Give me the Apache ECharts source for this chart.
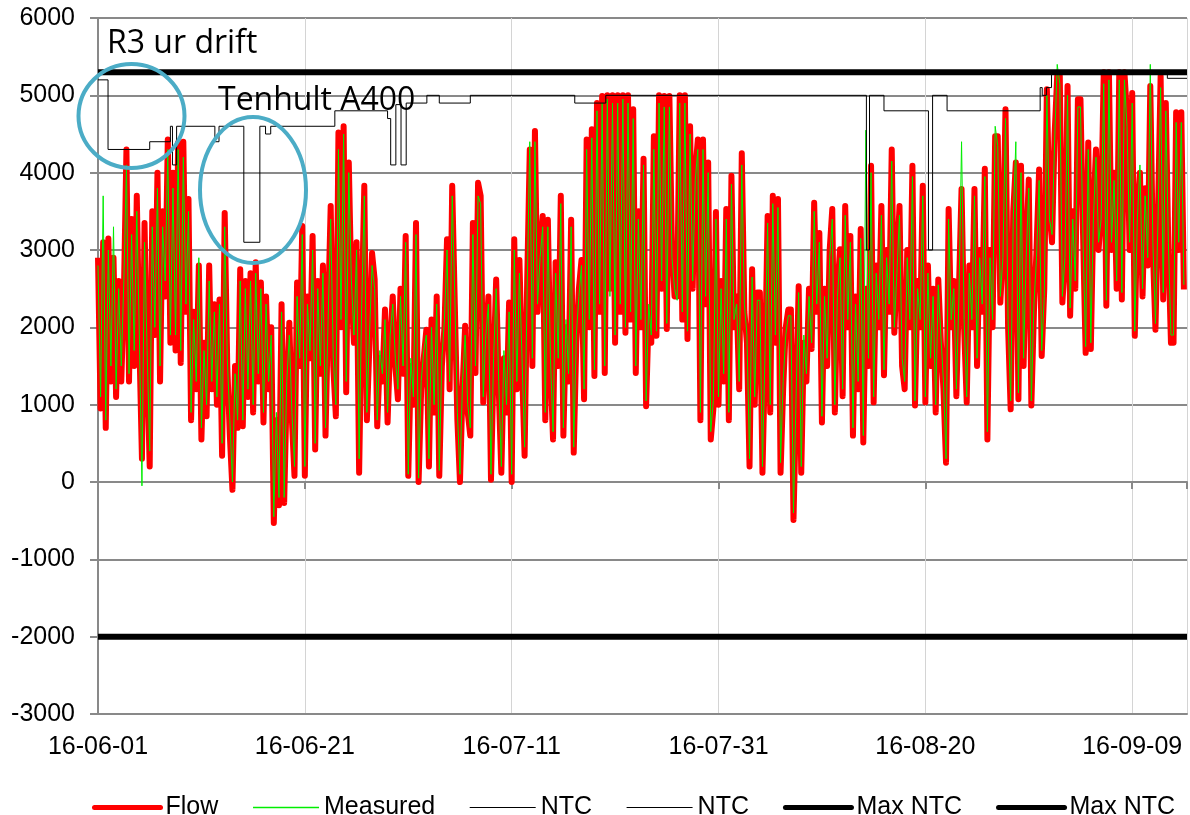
<!DOCTYPE html>
<html>
<head>
<meta charset="utf-8">
<script src="https://cdn.jsdelivr.net/npm/echarts@6/dist/echarts.min.js"></script>
<style>
html,body{margin:0;padding:0;background:#fff;}
#chart{width:1190px;height:815px;}
</style>
</head>
<body>
<div id="chart"></div>
<script>
// x tick labels (every 20 days from 2016-06-01)
const xTickLabels = ['16-06-01','16-06-21','16-07-11','16-07-31','16-08-20','16-09-09'];
// samples every 6 hours (0.25 day) starting 2016-06-01 00:00
const stepDays = 0.25;

const flowValues = [
 2900,950,3100,700, 3150,1300,2900,1100, 2600,1300,2400,4300, 1300,3400,1500,3700,
 1800,300,3350,1500, 200,3500,1900,4000, 1300,3500,2400,4430, 1800,4000,1700,4390,
 1540,4400,2200,3660, 800,2200,1200,2800, 550,1800,850,2800, 1200,2300,1000,2360,
 340,3480,1500,600, -100,1500,700,2750, 720,2600,1100,2700, 900,2840,1300,2580,
 770,2400,1200,2000, -530,800,-300,2300, -270,1200,2060,800, 80,2580,1500,3310,
 80,2400,1600,3180, 420,2600,1400,2800, 600,2200,3570,1500, 850,4520,2000,4600,
 1160,4130,2500,1800, 3100,120,2200,3830, 800,1800,2960,2620, 720,1600,1300,2230,
 770,1800,2400,1500, 1070,2500,1400,3180, 80,1500,1000,3350, 0,1200,1600,1970,
 200,2100,900,2400, 80,1500,2000,3140, 1200,3830,2300,800, 0,1200,2020,900,
 600,3350,1410,3870, 3700,1030,1800,2400, 30,1500,2620,1200, 120,1600,900,2320,
 0,3140,1200,2870, 1500,340,2600,4300, 1500,4540,2200,3000, 3440,800,3390,1500,
 550,2840,1500,3700, 600,2000,1300,3390, 380,1800,2500,2870, 1070,4430,2000,4560,
 1370,4900,2200,4990, 1410,5000,2500,5000, 1800,5000,2200,5000, 1930,5000,2100,4820,
 1410,3500,2000,4180, 980,2200,1800,4470, 1890,5000,2500,4990, 1980,4990,3000,2400,
 2400,5000,2100,5000, 1850,4600,2500,4000, 4430,800,4430,2300, 4130,550,940,3490,
 1000,2600,1300,3530, 800,3960,2000,2400, 1200,4250,2200,1800, 200,2750,1000,2450,
 2450,120,1600,3440, 900,3700,1800,3660, 120,1200,2000,2230, 2230,-490,1000,2530,
 120,1800,1300,2500, 1720,3610,2200,3220, 770,2500,1500,3000, 3530,900,2500,3010,
 1110,3570,2000,3180, 600,2400,1200,3270, 510,2500,1500,4090, 1030,2800,2000,3570,
 1380,3000,2200,4300, 1930,2800,3570,1500, 1200,3000,2000,4090, 990,2600,2000,3830,
 1030,2800,1500,2500, 900,2620,1800,1200, 250,3530,2000,2600, 1110,2500,3790,2000,
 1030,2800,2000,3790, 1500,3000,2200,4050, 550,3000,2000,4470, 4470,2320,3000,4820,
 2000,940,3500,4130, 1070,4090,1500,3000, 3910,990,2200,3000, 4040,1630,2500,5080,
 3500,3100,4500,5250, 5250,2320,2840,5120, 2150,3500,2500,4950, 4950,3200,1670,4390,
 1720,3500,4300,3000, 3500,5300,2280,5300, 3000,4000,2500,5300, 2360,5300,4730,3000,
 5030,1890,3500,4000, 2400,3800,2800,5120, 3000,1970,3500,5250, 2360,4900,3000,1800,
 1800,4780,3000,4780, 2490
];

const measuredValues = [
 2800,1100,3700,800, 3000,1500,3300,1200, 2500,1500,2600,4100, 1400,3200,1700,3500,
 1900,-50,3100,1700, 400,3300,2000,3800, 1500,3300,2600,4300, 1900,3800,1900,4300,
 1700,4200,2300,3500, 900,2100,1300,2900, 700,1700,1000,2600, 1300,2200,1100,2300,
 500,3300,1600,800, 0,1400,800,2600, 800,2500,1200,2600, 1000,2700,1400,2500,
 900,2300,1300,1900, -450,900,-200,2200, -200,1300,1900,900, 200,2400,1600,3200,
 200,2300,1700,3000, 500,2500,1500,2700, 700,2100,3400,1600, 1000,4300,2100,4500,
 1300,4000,2600,1900, 3000,300,2300,3700, 900,1900,2800,2500, 800,1700,1400,2100,
 900,1900,2300,1600, 1200,2400,1500,3100, 100,1600,1100,3200, 50,1300,1700,1900,
 300,2000,1000,2300, 150,1600,2100,3000, 1300,3700,2400,900, 100,1300,1900,1000,
 700,3200,1500,3700, 3600,1100,1900,2300, 100,1600,2500,1300, 200,1700,1000,2200,
 100,3000,1300,2700, 1600,450,2500,4400, 1600,4400,2300,2900, 3300,900,3300,1600,
 650,2700,1600,3600, 700,2100,1400,3300, 450,1900,2400,2800, 1200,4300,2100,4450,
 1450,4800,2300,4900, 1500,4950,2400,4900, 1900,4900,2300,4950, 2000,4900,2200,4700,
 1500,3400,2100,4100, 1050,2300,1900,4300, 1950,4900,2600,4850, 2050,4850,2900,2500,
 2350,4900,2200,4900, 1950,4500,2600,3900, 4300,900,4300,2400, 4000,650,1050,3400,
 1100,2500,1400,3400, 900,3850,2100,2300, 1300,4100,2300,1900, 300,2650,1100,2350,
 2350,200,1700,3350, 1000,3600,1900,3550, 250,1300,1900,2150, 2150,-400,1100,2450,
 200,1900,1400,2400, 1800,3500,2300,3100, 850,2400,1600,2900, 3400,1000,2400,2900,
 1200,3450,2100,3100, 700,2300,1300,3150, 600,4550,1600,4000, 1100,2700,2100,3450,
 1450,2900,2300,4150, 2000,2700,3450,1600, 1300,2900,2100,3950, 1050,2500,2100,3700,
 1100,2700,1600,2400, 1000,2550,1900,1300, 300,3400,2100,2500, 1200,2400,4400,2100,
 1100,2700,2100,3700, 1600,2900,2300,3950, 650,2900,2100,4600, 4350,2400,2900,4700,
 2100,1050,3400,4400, 1150,4000,1600,2900, 3800,1050,2300,2900, 3900,1700,2400,5000,
 3400,3200,4400,5400, 5150,2400,2900,5000, 2250,3400,2600,4850, 4850,3100,1750,4300,
 1800,3400,4200,3100, 3400,5150,2350,5200, 3100,3900,2600,5200, 2450,5200,4600,3100,
 4900,1950,3400,4100, 2500,3700,2900,5400, 3100,2050,3400,5100, 2450,4800,3100,1900,
 1900,4650,3100,4650, 2550
];

// NTC step line: value holds from each day until the next
const ntcDays   = [0, 0.97, 5.0, 7.0, 7.2, 7.6, 11.3, 11.7, 14.1, 15.65, 16.2, 16.7, 22.9, 28.0, 28.3, 28.8, 29.3, 29.8, 31.8, 33.0, 36.0, 46.1, 49.1, 74.3, 74.6, 76.0, 80.3, 80.7, 82.1, 91.1, 91.3, 91.7, 92.2, 103.4, 105.3];
const ntcValues = [5200, 4300, 4400, 4600, 4100, 4600, 4400, 4600, 3100, 4600, 4500, 4600, 4800, 4700, 4100, 4880, 4100, 4900, 5000, 4900, 5000, 4900, 5000, 3000, 5000, 4800, 3000, 5000, 4800, 5100, 5000, 5100, 5300, 5220, 5220];

const ntc2Days = [0, 105.3];
const ntc2Values = [-2000, -2000];
const maxNtcDays = [0, 105.3];
const maxNtcUpper = [5300, 5300];
const maxNtcLower = [-2000, -2000];

const pairs = (xs, ys) => xs.map((x, i) => [x, ys[i]]);
const stepped = vals => vals.map((v, i) => [i * stepDays, v]);

const chart = echarts.init(document.getElementById('chart'), null, {renderer: 'canvas'});
const FONT = "'Liberation Sans', Arial, sans-serif";
const GRID_GRAY = '#898989';
const GREEN = '#00ee00';

const option = {
  animation: false,
  backgroundColor: '#ffffff',
  grid: {left: 98, top: 18, right: 3, bottom: 101, containLabel: false, outerBoundsMode: 'none'},
  xAxis: [
    {
      type: 'value', min: 0, max: 105.3, interval: 20, position: 'bottom',
      axisLine: {show: true, onZero: false, lineStyle: {color: GRID_GRAY, width: 2}},
      axisTick: {show: false},
      axisLabel: {
        margin: 21, fontSize: 25, fontFamily: FONT, color: '#000',
        formatter: v => (Math.abs(v % 20) < 1e-9 ? xTickLabels[Math.round(v / 20)] : '')
      },
      splitLine: {show: true, lineStyle: {color: '#d4d4d4', width: 1}}
    },
    {
      type: 'value', min: 0, max: 105.3, interval: 20, position: 'top',
      axisLine: {show: true, onZero: true, lineStyle: {color: GRID_GRAY, width: 2}},
      axisTick: {show: true, inside: true, length: 7, lineStyle: {color: GRID_GRAY, width: 2}},
      axisLabel: {show: false},
      splitLine: {show: false}
    }
  ],
  yAxis: {
    type: 'value', min: -3000, max: 6000, interval: 1000,
    axisLine: {show: true, onZero: false, lineStyle: {color: GRID_GRAY, width: 2}},
    axisTick: {show: true, length: 8, lineStyle: {color: GRID_GRAY, width: 2}},
    axisLabel: {margin: 23, fontSize: 25, fontFamily: FONT, color: '#000', formatter: v => String(v)},
    splitLine: {show: true, lineStyle: {color: GRID_GRAY, width: 2}}
  },
  legend: {
    top: 790, left: 87, itemWidth: 66, itemHeight: 14, itemGap: 34,
    textStyle: {fontSize: 25, fontFamily: FONT, color: '#000'},
    itemStyle: {opacity: 0, borderWidth: 0},
    data: [
      {name: 'Flow', lineStyle: {color: '#ff0000', width: 5, cap: 'round'}},
      {name: 'Measured', lineStyle: {color: GREEN, width: 1.5}},
      {name: 'NTC', lineStyle: {color: '#000', width: 1}},
      {name: 'NTC\u200b', lineStyle: {color: '#000', width: 1}},
      {name: 'Max NTC', lineStyle: {color: '#000', width: 5, cap: 'round'}},
      {name: 'Max NTC\u200b', lineStyle: {color: '#000', width: 5, cap: 'round'}}
    ]
  },
  series: [
    {name: 'Flow', type: 'line', data: stepped(flowValues), symbol: 'none', showSymbol: false,
     lineStyle: {color: '#ff0000', width: 6, join: 'round'}, itemStyle: {color: '#ff0000'}, z: 2},
    {name: 'Measured', type: 'line', data: stepped(measuredValues), symbol: 'none', showSymbol: false,
     lineStyle: {color: GREEN, width: 1}, itemStyle: {color: GREEN}, z: 3},
    {name: 'NTC', type: 'line', step: 'end', data: pairs(ntcDays, ntcValues), symbol: 'none',
     lineStyle: {color: '#000', width: 1}, itemStyle: {color: '#000'}, z: 4},
    {name: 'NTC\u200b', type: 'line', data: pairs(ntc2Days, ntc2Values), symbol: 'none',
     lineStyle: {color: '#000', width: 1}, itemStyle: {color: '#000'}, z: 4},
    {name: 'Max NTC', type: 'line', data: pairs(maxNtcDays, maxNtcUpper), symbol: 'none',
     lineStyle: {color: '#000', width: 6}, itemStyle: {color: '#000'}, z: 5},
    {name: 'Max NTC\u200b', type: 'line', data: pairs(maxNtcDays, maxNtcLower), symbol: 'none',
     lineStyle: {color: '#000', width: 6}, itemStyle: {color: '#000'}, z: 5}
  ],
  graphic: [
    {type: 'text', left: 107, top: 28, z: 10,
     style: {text: 'R3 ur drift', font: "32px 'Open Sans', sans-serif", fill: '#000'}},
    {type: 'text', left: 218, top: 85, z: 10,
     style: {text: 'Tenhult A400', font: "32px 'Open Sans', sans-serif", fill: '#000'}},
    {type: 'ellipse', z: 11, shape: {cx: 131.5, cy: 116, rx: 53, ry: 52},
     style: {fill: 'none', stroke: '#4bacc6', lineWidth: 4}},
    {type: 'ellipse', z: 11, shape: {cx: 253, cy: 190, rx: 53, ry: 73},
     style: {fill: 'none', stroke: '#4bacc6', lineWidth: 4}}
  ]
};
chart.setOption(option);
</script>
</body>
</html>
